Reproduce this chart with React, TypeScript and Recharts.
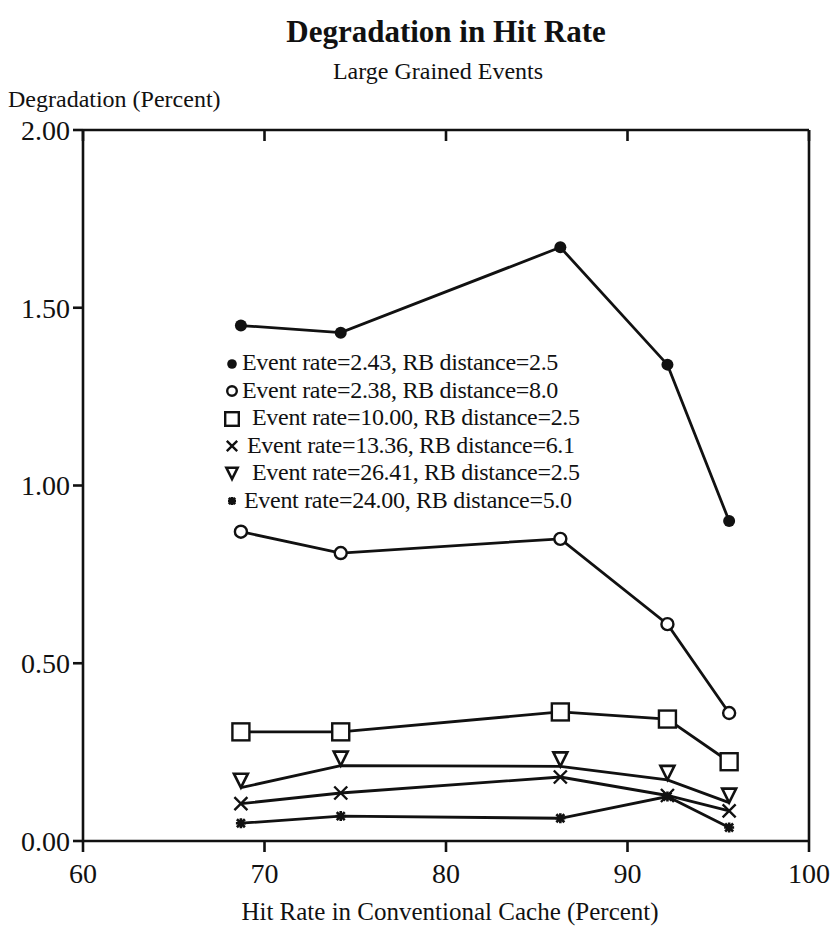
import { LineChart, Line, XAxis, YAxis, Legend } from 'recharts';

// hit rate in the conventional cache (percent), same for every series
const hitRates = [68.7, 74.2, 86.3, 92.2, 95.6];

// degradation (percent) per series
const rate243 = [1.45, 1.43, 1.67, 1.34, 0.9];
const rate238 = [0.87, 0.81, 0.85, 0.61, 0.36];
const rate1000 = [0.307, 0.307, 0.363, 0.343, 0.223];
const rate1336 = [0.105, 0.135, 0.18, 0.128, 0.085];
const rate2641 = [0.15, 0.212, 0.21, 0.172, 0.108];
const rate2400 = [0.05, 0.07, 0.064, 0.125, 0.038];

const seriesNames = [
  'Event rate=2.43, RB distance=2.5',
  'Event rate=2.38, RB distance=8.0',
  'Event rate=10.00, RB distance=2.5',
  'Event rate=13.36, RB distance=6.1',
  'Event rate=26.41, RB distance=2.5',
  'Event rate=24.00, RB distance=5.0',
];

const xTicks = [60, 70, 80, 90, 100];
const yTicks = [0, 0.5, 1, 1.5, 2];

const data = hitRates.map((hit, i) => ({
  hit,
  s1: rate243[i],
  s2: rate238[i],
  s3: rate1000[i],
  s4: rate1336[i],
  s5: rate2641[i],
  s6: rate2400[i],
}));

const FONT = '"Liberation Serif", "Times New Roman", serif';
const INK = '#111';

type Shape = 'dot' | 'ring' | 'square' | 'cross' | 'tri' | 'star';
const SHAPES: Shape[] = ['dot', 'ring', 'square', 'cross', 'tri', 'star'];

function Marker({ shape, cx, cy, s = 1 }: { shape: Shape; cx: number; cy: number; s?: number }) {
  switch (shape) {
    case 'dot':
      return <circle cx={cx} cy={cy} r={6 * s} fill={INK} />;
    case 'ring':
      return <circle cx={cx} cy={cy} r={6 * s} fill="#fff" stroke={INK} strokeWidth={2.4} />;
    case 'square':
      return (
        <rect x={cx - 8.5 * s} y={cy - 8.5 * s} width={17 * s} height={17 * s} fill="#fff" stroke={INK} strokeWidth={2.4} />
      );
    case 'cross':
      return (
        <path
          d={`M${cx - 6.5 * s},${cy - 6.5 * s}L${cx + 6.5 * s},${cy + 6.5 * s}M${cx - 6.5 * s},${cy + 6.5 * s}L${cx + 6.5 * s},${cy - 6.5 * s}`}
          stroke={INK}
          strokeWidth={2.4}
        />
      );
    case 'tri':
      // the lower vertex sits on the data point
      return (
        <path
          d={`M${cx},${cy}L${cx - 7 * s},${cy - 14 * s}L${cx + 7 * s},${cy - 14 * s}Z`}
          fill="none"
          stroke={INK}
          strokeWidth={2.6}
        />
      );
    case 'star':
      return (
        <path
          d={`M${cx},${cy - 5 * s}L${cx},${cy + 5 * s}M${cx - 5 * s},${cy}L${cx + 5 * s},${cy}M${cx - 4 * s},${cy - 4 * s}L${cx + 4 * s},${cy + 4 * s}M${cx - 4 * s},${cy + 4 * s}L${cx + 4 * s},${cy - 4 * s}`}
          stroke={INK}
          strokeWidth={2.6}
        />
      );
  }
}

function makeDot(shape: Shape) {
  // eslint-disable-next-line @typescript-eslint/no-explicit-any
  return (props: any) => {
    const { cx, cy, index } = props;
    if (cx == null || cy == null) return <g key={index} />;
    return (
      <g key={`${shape}-${index}`}>
        <Marker shape={shape} cx={cx} cy={cy} />
      </g>
    );
  };
}

// icon cell width per row, so the text starts where it does in the original
const ICON_W = [18, 18, 28, 23, 28, 20];

// eslint-disable-next-line @typescript-eslint/no-explicit-any
function LegendBox(props: any) {
  // eslint-disable-next-line @typescript-eslint/no-explicit-any
  const payload = [...(props.payload ?? [])].sort(
    (a: any, b: any) => seriesNames.indexOf(a.value) - seriesNames.indexOf(b.value),
  );
  return (
    <div style={{ fontFamily: FONT, fontSize: 24, color: INK, lineHeight: '27.5px', letterSpacing: -0.3 }}>
      {payload.map((p: any) => {
        const i = seriesNames.indexOf(p.value);
        const shape = SHAPES[i];
        return (
          <div key={p.value} style={{ display: 'flex', alignItems: 'center', whiteSpace: 'nowrap' }}>
            <svg width={ICON_W[i]} height={22} style={{ flex: 'none' }}>
              <Marker shape={shape} cx={8} cy={shape === 'tri' ? 17 : 12} s={0.8} />
            </svg>
            <span>{p.value}</span>
          </div>
        );
      })}
    </div>
  );
}

const emptyTick = () => <g />;

export default function App() {
  const keys = ['s1', 's2', 's3', 's4', 's5', 's6'];
  return (
    <div style={{ position: 'absolute', left: 0, top: 0, width: 834, height: 936, background: '#fff', fontFamily: FONT, color: INK }}>
      <div style={{ position: 'absolute', left: 0, width: 892, top: 14, textAlign: 'center', fontSize: 31, fontWeight: 'bold' }}>
        Degradation in Hit Rate
      </div>
      <div style={{ position: 'absolute', left: 0, width: 876, top: 58, textAlign: 'center', fontSize: 24 }}>
        Large Grained Events
      </div>
      <div style={{ position: 'absolute', left: 8, top: 86, fontSize: 24 }}>Degradation (Percent)</div>
      <div style={{ position: 'absolute', left: 0, width: 900, top: 898, textAlign: 'center', fontSize: 25 }}>
        Hit Rate in Conventional Cache (Percent)
      </div>
      <LineChart width={834} height={936} data={data} margin={{ top: 130, right: 25, bottom: 0, left: 0 }}>
        <XAxis
          xAxisId="bottom"
          dataKey="hit"
          type="number"
          domain={[60, 100]}
          ticks={xTicks}
          allowDataOverflow
          height={95}
          stroke={INK}
          strokeWidth={2.6}
          tickSize={11}
          tickMargin={11}
          tick={{ fill: INK, fontSize: 28, fontFamily: FONT }}
        />
        <XAxis
          xAxisId="top"
          dataKey="hit"
          type="number"
          orientation="top"
          domain={[60, 100]}
          ticks={xTicks}
          height={1}
          mirror
          stroke={INK}
          strokeWidth={2.6}
          tickSize={11}
          tick={emptyTick}
        />
        <YAxis
          yAxisId="left"
          type="number"
          domain={[0, 2]}
          ticks={yTicks}
          width={83}
          stroke={INK}
          strokeWidth={2.6}
          tickSize={10}
          tickMargin={3}
          tickFormatter={(v: number) => v.toFixed(2)}
          tick={{ fill: INK, fontSize: 28, fontFamily: FONT }}
        />
        <YAxis
          yAxisId="right"
          orientation="right"
          type="number"
          domain={[0, 2]}
          ticks={yTicks}
          width={1}
          mirror
          stroke={INK}
          strokeWidth={2.6}
          tickSize={10}
          tick={emptyTick}
        />
        <Legend
          layout="vertical"
          align="center"
          verticalAlign="middle"
          content={<LegendBox />}
          wrapperStyle={{ left: 224, top: 349, width: 400, height: 'auto' }}
        />
        {keys.map((k, i) => (
          <Line
            key={k}
            xAxisId="bottom"
            yAxisId="left"
            dataKey={k}
            name={seriesNames[i]}
            stroke={INK}
            strokeWidth={2.8}
            dot={makeDot(SHAPES[i])}
            activeDot={false}
            isAnimationActive={false}
          />
        ))}
      </LineChart>
    </div>
  );
}
